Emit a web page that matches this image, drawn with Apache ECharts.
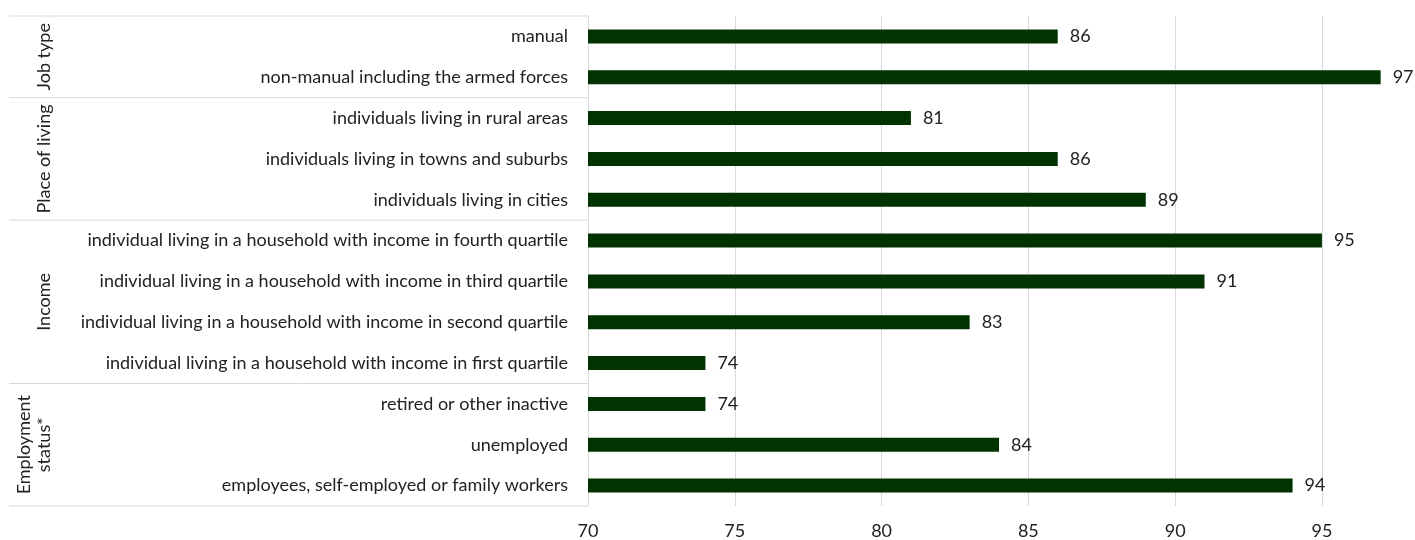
<!DOCTYPE html>
<html>
<head>
<meta charset="utf-8">
<script src="https://cdn.jsdelivr.net/npm/echarts@6.0.0/dist/echarts.min.js"></script>
<style>
  html, body { margin: 0; padding: 0; background: #fff; }
  #chart { width: 1415px; height: 540px; }
</style>
</head>
<body>
<div id="chart"></div>
<script>
// rows, top to bottom
const categories = [
  "manual",
  "non-manual including the armed forces",
  "individuals living in rural areas",
  "individuals living in towns and suburbs",
  "individuals living in cities",
  "individual living in a household with income in fourth quartile",
  "individual living in a household with income in third quartile",
  "individual living in a household with income in second quartile",
  "individual living in a household with income in first quartile",
  "retired or other inactive",
  "unemployed",
  "employees, self-employed or family workers",
];
const values = [86, 97, 81, 86, 89, 95, 91, 83, 74, 74, 84, 94];

// group name and how many rows it covers
const groupNames = ["Job type", "Place of living", "Income", "Employment\nstatus*"];
const groupSizes = [2, 3, 4, 3];

const FONT = "Lato, 'Open Sans', sans-serif";
const FS = 18;
const chart = echarts.init(document.getElementById("chart"));

chart.setOption({
  animation: false,
  grid: { left: 588, right: 5, top: 16, bottom: 34, containLabel: false },
  xAxis: {
    type: "value",
    min: 70,
    max: 98,
    interval: 5,
    axisLine: { show: false },
    axisTick: { show: false },
    splitLine: { showMaxLine: false, lineStyle: { color: "#d9d9d9", width: 1 } },
    axisLabel: {
      margin: 16,
      fontFamily: FONT,
      fontSize: FS,
      color: "#222",
      formatter: (v) => (v % 5 === 0 ? String(v) : ""),
    },
  },
  yAxis: {
    type: "category",
    data: categories,
    inverse: true,
    axisLine: { show: true, lineStyle: { color: "#d9d9d9" } },
    axisTick: { show: false },
    axisLabel: { margin: 20, fontFamily: FONT, fontSize: FS, color: "#222" },
  },
  series: [
    {
      type: "bar",
      data: values,
      barWidth: 14,
      itemStyle: { color: "#013301" },
      label: {
        show: true,
        position: "right",
        distance: 12,
        fontFamily: FONT,
        fontSize: FS,
        color: "#222",
      },
    },
  ],
});

// group separators and rotated group names, placed from the category scale
const step = chart.convertToPixel({ yAxisIndex: 0 }, 1) - chart.convertToPixel({ yAxisIndex: 0 }, 0);
const axisX = chart.convertToPixel({ xAxisIndex: 0 }, 70);
const edge = (i) => chart.convertToPixel({ yAxisIndex: 0 }, i) - step / 2;
const graphics = [];
let start = 0;
const lineAt = (y) => ({
  type: "line",
  shape: { x1: 9, y1: y, x2: axisX, y2: y },
  style: { stroke: "#d9d9d9", lineWidth: 1 },
});
graphics.push(lineAt(edge(0)));
groupNames.forEach((name, g) => {
  const end = start + groupSizes[g];
  const y0 = edge(start);
  const y1 = edge(end);
  graphics.push(lineAt(y1));
  graphics.push({
    type: "text",
    x: name.includes("\n") ? 34 : 44,
    y: (y0 + y1) / 2,
    rotation: Math.PI / 2,
    style: {
      text: name,
      fontFamily: FONT,
      fontSize: FS,
      fill: "#222",
      align: "center",
      verticalAlign: "middle",
      lineHeight: 20,
    },
  });
  start = end;
});
chart.setOption({ graphic: graphics });
</script>
</body>
</html>
